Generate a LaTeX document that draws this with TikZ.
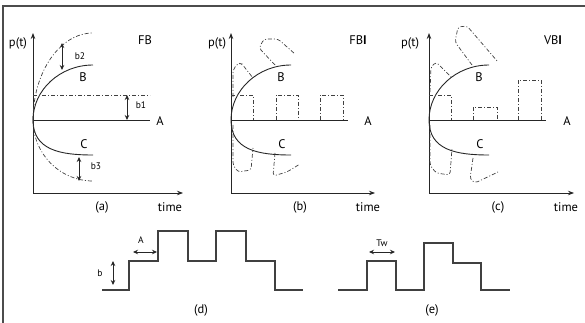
\documentclass[tikz,border=0pt]{standalone}
\usepackage{fontspec}
\setmainfont{PT Sans}
\usetikzlibrary{arrows.meta}

\tikzset{
  curve/.style={line width=0.9pt, black!85},
  axis/.style={line width=0.8pt, black!85, -{Stealth[length=6pt,width=4.5pt]}},
  dashdot/.style={line width=0.7pt, black!75, dash pattern=on 4pt off 2pt on 1pt off 2pt},
  blob/.style={dashdot, rounded corners=3pt},
  dimarrow/.style={line width=0.8pt, black!85, {Stealth[length=5pt,width=4.5pt]}-{Stealth[length=5pt,width=4.5pt]}},
  steps/.style={line width=1.1pt, black!75},
  lbl/.style={font=\fontsize{12.5}{12.5}\selectfont, inner sep=0pt},
  small/.style={font=\fontsize{9.5}{9.5}\selectfont, inner sep=0pt},
}

\begin{document}
\begin{tikzpicture}[x=1pt,y=-1pt]
  \useasboundingbox (0,0) rectangle (585,323);
  % frame
  \draw[line width=1.2pt, black!70] (585,6) -- (3,6) -- (3,323);
  % axes, A, B and C in the three plots
  \foreach \ox/\xend/\ax/\px/\ttl/\tx/\nm in {0/183/160/18/FB/145/a, 198/375/368/217/FB\textbf{I}/358/b, 396/574/567/410/VB\textbf{I}/553/c}{
    \draw[axis] (\ox+33,193) -- (\ox+33,33);
    \draw[axis] (\ox+33,193) -- (\xend,193);
    \draw[curve] (\ox+33,120) -- (\ox+150,120);
    \draw[curve] (\ox+33,120) .. controls (\ox+33,90) and (\ox+60,65) .. (\ox+93,65);
    \draw[curve] (\ox+33,120) .. controls (\ox+33,150) and (\ox+60,155) .. (\ox+93,155);
    \node[lbl] (pt-\nm) at (\px,43) {p(t)};
    \node[lbl] (ttl-\nm) at (\tx,40) {\ttl};
    \node[lbl] (B-\nm) at (\ox+83,77) {B};
    \node[lbl] (C-\nm) at (\ox+84,144) {C};
    \node[lbl] (A-\nm) at (\ax,121) {A};
    \node[lbl] (time-\nm) at (\ox+170,207) {time};
    \node[lbl] (cap-\nm) at (\ox+102,207) {(\nm)};
  }
  % (a) FB bounds
  \draw[dashdot] (33,120) .. controls (33,72) and (60,33) .. (93,33);
  \draw[dashdot] (33,120) .. controls (33,154) and (60,181) .. (93,181);
  \draw[dashdot] (33,95) -- (150,95);
  \draw[dimarrow] (127,95) -- (127,120);
  \draw[dimarrow] (62,43) -- (62,70);
  \draw[dimarrow] (79,157) -- (79,181);
  \node[small] (b1) at (141,105) {b1};
  \node[small] (b2) at (80,56) {b2};
  \node[small] (b3) at (96,166) {b3};
  % (b) FBI pulses
  \draw[dashdot] (231,95) -- (253,95) -- (253,120);
  \draw[dashdot] (276,120) -- (276,95) -- (298,95) -- (298,120);
  \draw[dashdot] (320,120) -- (320,95) -- (343,95) -- (343,120);
  \draw[blob] (233,97) -- (233,70) -- (238,63) -- (242,64) -- (253,78);
  \draw[blob] (275,65) -- (259,48) -- (264,39) -- (278,39) -- (295,54);
  \draw[blob] (233,125) -- (233,165) -- (238,172) -- (251,170) -- (253,148);
  \draw[blob] (275,153) -- (273,176) -- (287,172) -- (300,164);
  % (c) VBI pulses
  \draw[dashdot] (429,95) -- (451,95) -- (451,120);
  \draw[dashdot] (473,120) -- (473,107) -- (497,107) -- (497,120);
  \draw[dashdot] (518,120) -- (518,80) -- (541,80) -- (541,120);
  \draw[blob] (430,92) -- (431,67) -- (436,62) -- (452,78);
  \draw[blob] (472,65) -- (455,42) -- (458,27) -- (467,26) -- (498,62);
  \draw[blob] (430,125) -- (430,165) -- (436,173) -- (450,175) -- (452,148);
  \draw[blob] (473,158) -- (470,179) -- (475,183) -- (498,172);
  % (d) fixed step
  \draw[steps] (102,290) -| (129,261) -| (158,231) -| (188,261) -| (216,231) -| (246,261) -| (275,290) -- (303,290);
  \draw[dimarrow] (133,252) -- (157,252);
  \draw[dimarrow] (113,261) -- (113,285);
  \node[small] (lA) at (141,240) {A};
  \node[small] (lb) at (100,273) {b};
  \node[lbl] (cap-d) at (201,310) {(d)};
  % (e) variable step
  \draw[steps] (338,290) -| (367,261) -| (396,290) -| (424,243) -| (453,263) -| (481,290) -- (510,290);
  \draw[dimarrow] (369,252) -- (395,252);
  \node[small] (Tw) at (382,243) {Tw};
  \node[lbl] (cap-e) at (432,310) {(e)};
\end{tikzpicture}
\end{document}
